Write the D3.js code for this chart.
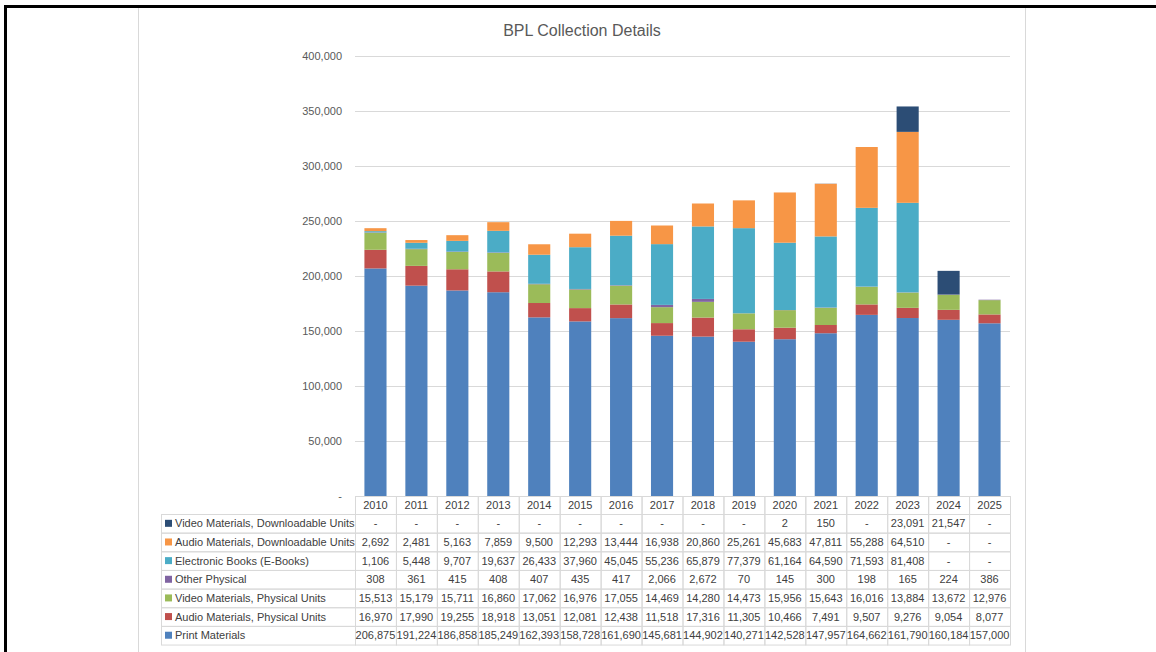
<!DOCTYPE html>
<meta charset="utf-8">
<style>
body { margin: 0; background: #fff; }
text { font-family: "Liberation Sans", Arial, sans-serif; }
</style>
<svg id="chart" width="1156" height="652"></svg>
<script src="https://cdnjs.cloudflare.com/ajax/libs/d3/7.8.5/d3.min.js"></script>
<script>

var years = ["2010","2011","2012","2013","2014","2015","2016","2017","2018","2019","2020","2021","2022","2023","2024","2025"];

var printMaterials = [206875,191224,186858,185249,162393,158728,161690,145681,144902,140271,142528,147957,164662,161790,160184,157000];
var audioPhysical  = [16970,17990,19255,18918,13051,12081,12438,11518,17316,11305,10466,7491,9507,9276,9054,8077];
var videoPhysical  = [15513,15179,15711,16860,17062,16976,17055,14469,14280,14473,15956,15643,16016,13884,13672,12976];
var otherPhysical  = [308,361,415,408,407,435,417,2066,2672,70,145,300,198,165,224,386];
var eBooks         = [1106,5448,9707,19637,26433,37960,45045,55236,65879,77379,61164,64590,71593,81408,0,0];
var audioDownload  = [2692,2481,5163,7859,9500,12293,13444,16938,20860,25261,45683,47811,55288,64510,0,0];
var videoDownload  = [0,0,0,0,0,0,0,0,0,0,2,150,0,23091,21547,0];

var seriesNames = ["Print Materials","Audio Materials, Physical Units","Video Materials, Physical Units","Other Physical","Electronic Books (E-Books)","Audio Materials, Downloadable Units","Video Materials, Downloadable Units"];
var seriesValues = [printMaterials, audioPhysical, videoPhysical, otherPhysical, eBooks, audioDownload, videoDownload];
var seriesColors = ["#4f81bd","#c0504d","#9bbb59","#8064a2","#4bacc6","#f79646","#2c4d75"];

var yTicks = [0,50000,100000,150000,200000,250000,300000,350000,400000];

var svg = d3.select("svg#chart");

// outer frame bits
svg.append("line").attr("x1", 138.5).attr("x2", 138.5).attr("y1", 8).attr("y2", 652)
	.attr("stroke", "#d9d9d9").attr("stroke-width", 1);
svg.append("line").attr("x1", 1025.5).attr("x2", 1025.5).attr("y1", 8).attr("y2", 652)
	.attr("stroke", "#d9d9d9").attr("stroke-width", 1);
svg.append("line").attr("x1", 5).attr("x2", 1156).attr("y1", 6.5).attr("y2", 6.5)
	.attr("stroke", "#000").attr("stroke-width", 3);
svg.append("line").attr("x1", 5.5).attr("x2", 5.5).attr("y1", 5).attr("y2", 652)
	.attr("stroke", "#000").attr("stroke-width", 3);

svg.append("text")
	.attr("x", 582).attr("y", 36)
	.attr("text-anchor", "middle")
	.attr("font-size", 16)
	.attr("fill", "#595959")
	.text("BPL Collection Details");

var x = d3.scaleBand().domain(years).range([355, 1010]).paddingInner(0.46).paddingOuter(0.23);
var cols = d3.scaleBand().domain(years).range([355, 1010]);
var y = d3.scaleLinear().domain([0, 400000]).range([496, 56]);

var fmt = d3.format(",");
function cellText(v) { return v === 0 ? "-" : fmt(v); }

// gridlines
svg.append("g").selectAll("line")
	.data(yTicks.slice(1))
	.enter().append("line")
		.attr("x1", 355).attr("x2", 1010)
		.attr("y1", function(d) { return Math.round(y(d)) + 0.5; })
		.attr("y2", function(d) { return Math.round(y(d)) + 0.5; })
		.attr("stroke", "#d9d9d9");

var yAxis = svg.append("g")
	.attr("transform", "translate(355,0)")
	.call(d3.axisLeft(y).tickValues(yTicks).tickSize(0).tickPadding(13).tickFormat(cellText));
yAxis.select(".domain").remove();
yAxis.selectAll("text").attr("font-size", 11).attr("fill", "#595959")
	.style("font-family", "Liberation Sans, Arial, sans-serif");

// stacked bars
var rows = years.map(function(yr, i) {
	var r = { year: yr };
	seriesNames.forEach(function(n, k) { r[n] = seriesValues[k][i]; });
	return r;
});
var stacked = d3.stack().keys(seriesNames)(rows);

svg.append("g").selectAll("g")
	.data(stacked)
	.enter().append("g")
		.attr("fill", function(d, i) { return seriesColors[i]; })
	.selectAll("rect")
	.data(function(d) { return d; })
	.enter().append("rect")
		.attr("x", function(d) { return x(d.data.year); })
		.attr("width", x.bandwidth())
		.attr("y", function(d) { return y(d[1]); })
		.attr("height", function(d) { return y(d[0]) - y(d[1]); });

// data table
var rowH = 18.65;
var headTop = 496, headH = 18;
var tableTop = headTop + headH;
var labelLeft = 161;
var grid = "#d9d9d9";
var tbl = svg.append("g");

// header cells
tbl.selectAll("rect.head")
	.data(years)
	.enter().append("rect")
		.attr("class", "head")
		.attr("x", function(d) { return cols(d) + 0.5; })
		.attr("y", headTop + 0.5)
		.attr("width", cols.bandwidth())
		.attr("height", headH)
		.attr("fill", "none").attr("stroke", grid);
tbl.selectAll("text.head")
	.data(years)
	.enter().append("text")
		.attr("class", "head")
		.attr("x", function(d) { return cols(d) + cols.bandwidth() / 2; })
		.attr("y", headTop + 13)
		.attr("text-anchor", "middle")
		.attr("font-size", 11).attr("fill", "#404040")
		.text(function(d) { return d; });

var tableOrder = d3.range(seriesNames.length).reverse();

var tr = tbl.selectAll("g.row")
	.data(tableOrder)
	.enter().append("g")
		.attr("class", "row")
		.attr("transform", function(k, j) { return "translate(0," + (tableTop + j * rowH) + ")"; });

tr.append("rect")
	.attr("x", labelLeft + 0.5).attr("y", 0.5)
	.attr("width", 355 - labelLeft).attr("height", rowH)
	.attr("fill", "none").attr("stroke", grid);
tr.append("rect")
	.attr("x", 165).attr("y", rowH / 2 - 3.5)
	.attr("width", 7).attr("height", 7)
	.attr("fill", function(k) { return seriesColors[k]; });
tr.append("text")
	.attr("x", 175).attr("y", rowH / 2 + 4)
	.attr("font-size", 11).attr("fill", "#404040")
	.text(function(k) { return seriesNames[k]; });

tr.selectAll("rect.cell")
	.data(function(k) { return seriesValues[k].map(function(v, i) { return { v: v, yr: years[i] }; }); })
	.enter().append("rect")
		.attr("class", "cell")
		.attr("x", function(d) { return cols(d.yr) + 0.5; })
		.attr("y", 0.5)
		.attr("width", cols.bandwidth())
		.attr("height", rowH)
		.attr("fill", "none").attr("stroke", grid);
tr.selectAll("text.cell")
	.data(function(k) { return seriesValues[k].map(function(v, i) { return { v: v, yr: years[i] }; }); })
	.enter().append("text")
		.attr("class", "cell")
		.attr("x", function(d) { return cols(d.yr) + cols.bandwidth() / 2; })
		.attr("y", rowH / 2 + 4)
		.attr("text-anchor", "middle")
		.attr("font-size", 11).attr("fill", "#404040")
		.text(function(d) { return cellText(d.v); });

</script>
